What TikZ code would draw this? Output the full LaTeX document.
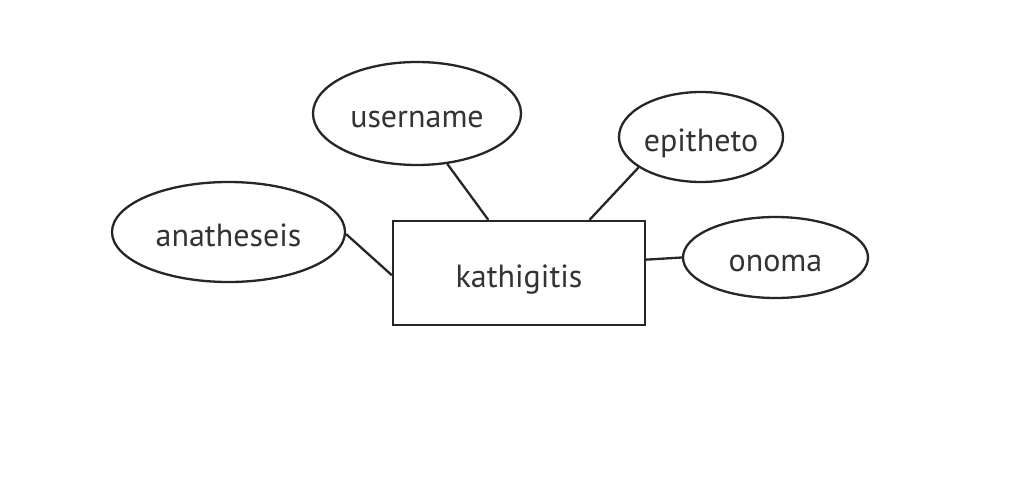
\documentclass[tikz,border=0pt]{standalone}
\usepackage{fontspec}
\setmainfont{PT Sans}
\usetikzlibrary{shapes.geometric}
\begin{document}
\begin{tikzpicture}[x=1pt,y=-1pt,
  lbl/.style={text=black!80, font=\fontsize{32}{34}\selectfont,
    text height=31pt, text depth=3pt},
  attr/.style={ellipse, draw=black!85, line width=2.3pt, inner sep=0pt, lbl},
  entity/.style={rectangle, draw=black!85, line width=2.3pt, inner sep=0pt, lbl},
  link/.style={draw=black!85, line width=2.3pt}]
\useasboundingbox[fill=white] (0,0) rectangle (1030,503);
% entity
\node[entity, minimum width=252pt, minimum height=104pt] (k) at (519,273) {kathigitis};
% attributes
\node[attr, minimum width=208pt, minimum height=103pt] (u) at (417,113.5) {username};
\node[attr, minimum width=164pt, minimum height=90pt] (e) at (701,137) {epitheto};
\node[attr, minimum width=233pt, minimum height=100pt] (a) at (228.5,232) {anatheseis};
\node[attr, minimum width=185pt, minimum height=81pt] (o) at (775.5,257.5) {onoma};
% connectors
\draw[link] (u.-59.8) -- (k.120.8);
\draw[link] (e.206) -- (k.37);
\draw[link] (a.-1.5) -- (k.181.8);
\draw[link] (o.west) -- (k.6.8);
\end{tikzpicture}
\end{document}
